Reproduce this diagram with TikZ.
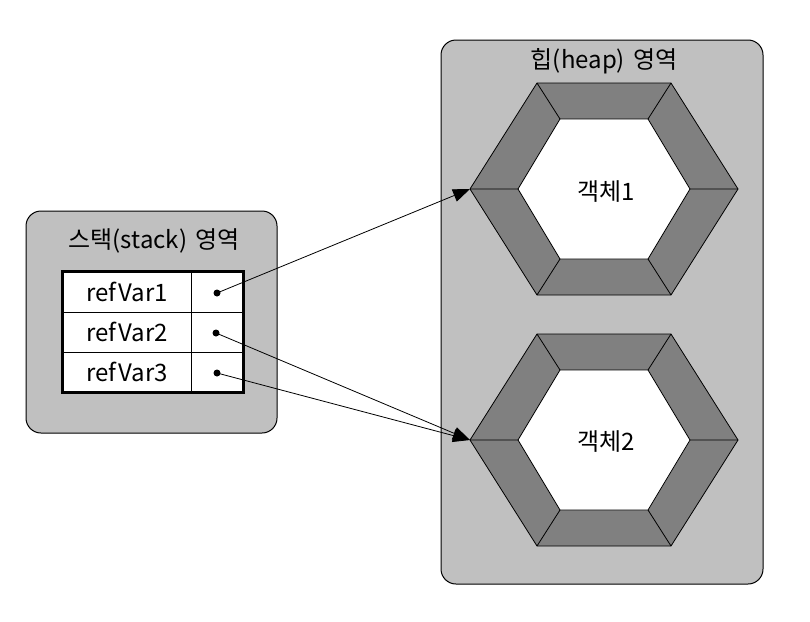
\documentclass[tikz,border=0pt]{standalone}
\usepackage{fontspec}
\setmainfont{Noto Sans CJK KR}
\usetikzlibrary{arrows.meta}
\definecolor{bgray}{RGB}{192,192,192}
\definecolor{band}{RGB}{128,128,128}
\tikzset{
  area/.style={draw=black, fill=bgray, line width=1pt, rounded corners=15pt},
  lbl/.style={font=\fontsize{24}{28}\selectfont, inner sep=0pt},
  cell/.style={draw=black, fill=white, line width=1pt, inner sep=0pt, minimum height=40pt, font=\fontsize{24}{27}\selectfont},
  dot/.style={circle, fill=black, inner sep=0pt, minimum size=7pt},
  ref/.style={line width=0.8pt, -{Triangle[length=17pt,width=13pt]}},
  hexobj/.pic={
    \draw[fill=band, line width=0.8pt] (-134,0) -- (-67,-106) -- (67,-106) -- (134,0) -- (67,106) -- (-67,106) -- cycle;
    \draw[fill=white, line width=0.8pt] (-86,0) -- (-44,-70) -- (44,-70) -- (86,0) -- (44,70) -- (-44,70) -- cycle;
    \draw[line width=0.8pt] (-134,0) -- (-86,0) (-67,-106) -- (-44,-70) (67,-106) -- (44,-70)
      (134,0) -- (86,0) (67,106) -- (44,70) (-67,106) -- (-44,70);
  }
}
\begin{document}
\begin{tikzpicture}[x=1pt,y=-1pt]
\useasboundingbox (0,0) rectangle (810,621);
% stack area
\draw[area] (26,211) rectangle (277,433);
\node[lbl] (stacklbl) at (154,241) {스택(stack)\,\,영역};
\node[cell, minimum width=128pt] (n1) at (127,292) {refVar1};
\node[cell, minimum width=52pt] (p1) at (217,292) {};
\node[cell, minimum width=128pt] (n2) at (127,332) {refVar2};
\node[cell, minimum width=52pt] (p2) at (217,332) {};
\node[cell, minimum width=128pt] (n3) at (127,372) {refVar3};
\node[cell, minimum width=52pt] (p3) at (217,372) {};
\draw[line width=3pt] (n1.north west) rectangle (p3.south east);
\node[dot] (d1) at (217,293) {};
\node[dot] (d2) at (216,333) {};
\node[dot] (d3) at (217,373) {};
% heap area
\draw[area] (441,40) rectangle (763,584);
\node[lbl] (heaplbl) at (604,61) {힙(heap)\,\,영역};
\pic at (604,189) {hexobj};
\pic at (604,440) {hexobj};
\node[lbl] (obj1) at (606,192) {객체1};
\node[lbl] (obj2) at (606,442) {객체2};
\coordinate (h1) at (470,189);
\coordinate (h2) at (470,440);
% references
\draw[ref] (d1.center) -- (h1);
\draw[ref] (d2.center) -- (h2);
\draw[ref] (d3.center) -- (h2);
\end{tikzpicture}
\end{document}
